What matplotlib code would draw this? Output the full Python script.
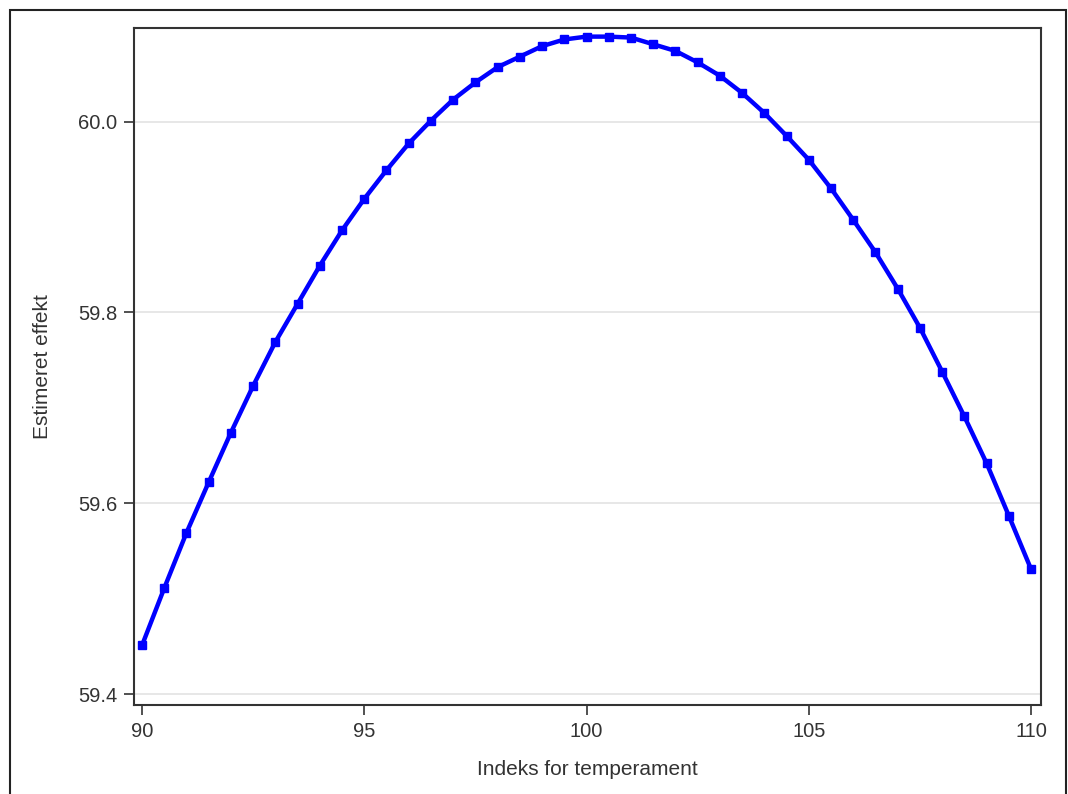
import numpy as np
import matplotlib
matplotlib.use("Agg")
from matplotlib import pyplot as plt
from matplotlib.patches import Rectangle

# temperament index and estimated effect
temperament = [90, 90.5, 91, 91.5, 92, 92.5, 93, 93.5, 94, 94.5,
               95, 95.5, 96, 96.5, 97, 97.5, 98, 98.5, 99, 99.5,
               100, 100.5, 101, 101.5, 102, 102.5, 103, 103.5, 104, 104.5,
               105, 105.5, 106, 106.5, 107, 107.5, 108, 108.5, 109, 109.5, 110]
effekt = [59.451, 59.511, 59.569, 59.622, 59.674, 59.723, 59.769, 59.809, 59.849, 59.886,
          59.919, 59.949, 59.977, 60.001, 60.023, 60.041, 60.057, 60.068, 60.079, 60.086,
          60.089, 60.089, 60.088, 60.081, 60.074, 60.062, 60.048, 60.030, 60.009, 59.985,
          59.960, 59.930, 59.897, 59.863, 59.825, 59.784, 59.738, 59.691, 59.642, 59.587, 59.531]
x_ticks = [90, 95, 100, 105, 110]
y_ticks = [59.4, 59.6, 59.8, 60.0]

plt.rcParams['font.family'] = ['Liberation Sans', 'DejaVu Sans']

fig = plt.figure(figsize=(10.68, 7.94), dpi=100)
ax = fig.add_axes([0.1255, 0.1121, 0.849, 0.8526])

ax.plot(temperament, effekt, color='#0000ff', linewidth=3.2,
        marker='s', markersize=6, zorder=3)

ax.set_xlim(89.82, 110.22)
ax.set_ylim(59.3885, 60.098)
ax.set_xticks(x_ticks)
ax.set_yticks(y_ticks)
ax.set_yticklabels([f"{v:.1f}" for v in y_ticks])
ax.grid(True, axis='y', color='#e3e3e3', linewidth=1.2)
ax.set_axisbelow(True)

for s in ax.spines.values():
    s.set_color('#333333')
    s.set_linewidth(1.5)
ax.tick_params(direction='out', length=7, width=1.2, color='#333333',
               labelsize=14.5, labelcolor='#333333', pad=5)

ax.set_xlabel('Indeks for temperament', fontsize=15, color='#333333', labelpad=14)
ax.set_ylabel('Estimeret effekt', fontsize=15, color='#333333', labelpad=19)

# outer frame around the whole graph
fig.patches.append(Rectangle((10 / 1068, -0.01), 1056 / 1068, 1 - 10 / 794 + 0.01,
                             transform=fig.transFigure, fill=False,
                             edgecolor='#222222', linewidth=1.5))

fig.savefig('out.png', dpi=100)
